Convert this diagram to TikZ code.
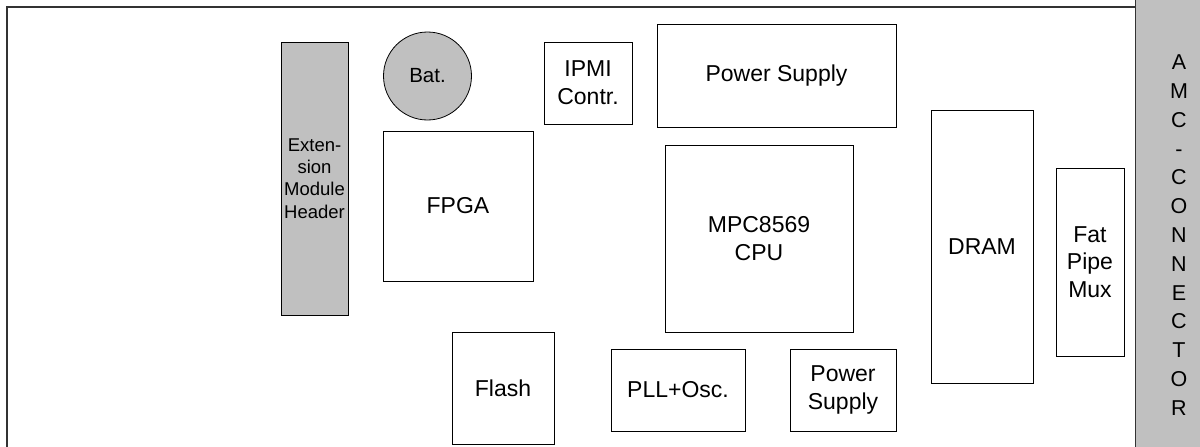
\documentclass[tikz,border=0pt]{standalone}
\usepackage{fontspec}
\setmainfont{Liberation Sans}
\definecolor{partgray}{HTML}{C0C0C0}
\definecolor{edge}{HTML}{333333}
\begin{document}
\begin{tikzpicture}[x=1pt,y=-1pt,
  part/.style={draw=black, line width=0.8pt, rectangle, inner sep=0pt,
    align=center, font=\fontsize{23}{27.7}\selectfont},
  grayed/.style={fill=partgray},
  frame/.style={draw=edge, line width=1.6pt}]
\useasboundingbox (0,0) rectangle (1200,447);
% board outline
\coordinate (tl) at (7,7);
\coordinate (tr) at (1135,7);
\coordinate (bl) at (7,447);
\draw[frame] (bl) -- (tl) -- (tr);
% AMC edge connector
\node[draw=edge, line width=1.2pt, fill=partgray, rectangle, inner sep=0pt,
  minimum width=66pt, minimum height=449pt, anchor=north west] (amc) at (1135,-1) {};
\node[align=center, font=\fontsize{21.5}{28.8}\selectfont] (amctext) at (1179,235)
  {A\\M\\C\\-\\C\\O\\N\\N\\E\\C\\T\\O\\R};
% components
\node[part, grayed, minimum width=67pt, minimum height=273pt,
  font=\fontsize{18.5}{22.4}\selectfont] (ext) at (314.5,178.5)
  {Exten-\\sion\\Module\\Header};
\node[draw=black, line width=0.8pt, circle, fill=partgray, minimum size=88pt,
  inner sep=0pt, font=\fontsize{20.5}{24}\selectfont] (bat) at (427.5,76) {Bat.};
\node[part, minimum width=88pt, minimum height=82pt] (ipmi) at (588,83) {IPMI\\Contr.};
\node[part, minimum width=239pt, minimum height=103pt] (psutop) at (776.5,75.5) {Power Supply};
\node[part, minimum width=150pt, minimum height=150pt] (fpga) at (458,206) {FPGA};
\node[part, minimum width=188pt, minimum height=187pt] (cpu) at (759,238.5) {MPC8569\\CPU};
\node[part, minimum width=102pt, minimum height=112pt] (flash) at (503,388) {Flash};
\node[part, minimum width=134pt, minimum height=82pt] (pll) at (678,390) {PLL+Osc.};
\node[part, minimum width=106pt, minimum height=82pt] (psubot) at (843,390) {Power\\Supply};
\node[part, minimum width=102pt, minimum height=273pt] (dram) at (982,246.5) {DRAM};
\node[part, minimum width=68pt, minimum height=188pt] (mux) at (1090,262) {Fat\\Pipe\\Mux};
\end{tikzpicture}
\end{document}
